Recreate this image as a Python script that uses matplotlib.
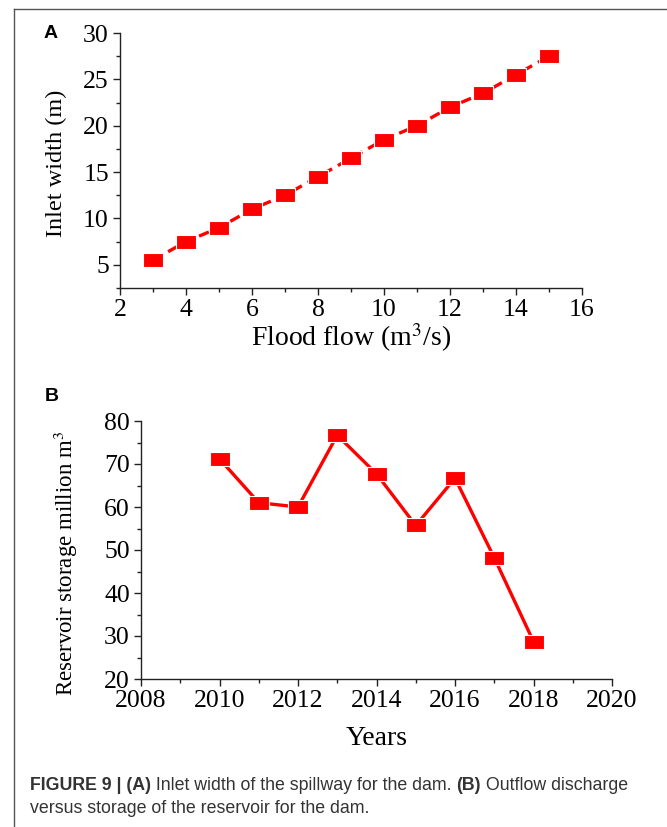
import matplotlib
matplotlib.use("Agg")
import matplotlib.pyplot as plt
from matplotlib.lines import Line2D
from matplotlib.ticker import MultipleLocator

# Panel A: inlet width vs flood flow
flood_flow = [3, 4, 5, 6, 7, 8, 9, 10, 11, 12, 13, 14, 15]
inlet_width = [5.5, 7.5, 9.0, 11.0, 12.5, 14.5, 16.5, 18.5, 20.0, 22.0, 23.5, 25.5, 27.5]

# Panel B: reservoir storage by year
years = [2010, 2011, 2012, 2013, 2014, 2015, 2016, 2017, 2018]
storage = [71.2, 61.0, 60.0, 76.7, 67.7, 55.7, 66.7, 48.2, 28.7]

plt.rcParams["font.family"] = ["Liberation Serif", "DejaVu Serif"]
plt.rcParams["mathtext.fontset"] = "stix"

W, H = 667, 827
RED = "#ff0000"
# squares look a bit wider than tall
rect = [(-1.0, -0.72), (1.0, -0.72), (1.0, 0.72), (-1.0, 0.72), (-1.0, -0.72)]

fig = plt.figure(figsize=(W / 100, H / 100), dpi=100)

# thin frame on top and left
fig.add_artist(Line2D([14 / W, 14 / W], [0, 1 - 9 / H], transform=fig.transFigure,
                      color="#555555", lw=1.0))
fig.add_artist(Line2D([14 / W, 1], [1 - 9 / H, 1 - 9 / H], transform=fig.transFigure,
                      color="#555555", lw=1.0))


def style_axes(ax):
    for side in ("top", "right"):
        ax.spines[side].set_visible(False)
    for side in ("left", "bottom"):
        ax.spines[side].set_linewidth(1.0)
        ax.spines[side].set_color("#222222")
    ax.tick_params(which="major", direction="out", length=5, width=1.0,
                   labelsize=18.5, color="#222222", pad=3)
    ax.tick_params(which="minor", direction="out", length=3, width=1.0, color="#222222")


# --- panel A ---
axA = fig.add_axes([120 / W, 1 - 288 / H, 462 / W, 255 / H])
axA.plot(flood_flow, inlet_width, color=RED, lw=2.4, ls=(0, (3.2, 2.0)),
         marker=rect, ms=14, mfc=RED, mec="white", mew=0.8)
axA.set_xlim(2, 16)
axA.set_ylim(2.5, 30)
axA.xaxis.set_major_locator(MultipleLocator(2))
axA.xaxis.set_minor_locator(MultipleLocator(1))
axA.yaxis.set_major_locator(MultipleLocator(5))
axA.yaxis.set_minor_locator(MultipleLocator(2.5))
style_axes(axA)
axA.set_xlabel("Flood flow (m$^3$/s)", fontsize=20, labelpad=0)
axA.set_ylabel("Inlet width (m)", fontsize=17.5)
axA.yaxis.set_label_coords(-0.115, 0.49)
fig.text(44 / W, 1 - 33 / H, "A", family="Liberation Sans", weight="bold",
         fontsize=14, va="center", ha="left")

# --- panel B ---
axB = fig.add_axes([141 / W, 1 - 679 / H, 471 / W, 258 / H])
axB.plot(years, storage, color=RED, lw=2.4, ls="-",
         marker=rect, ms=14, mfc=RED, mec="white", mew=0.8)
axB.set_xlim(2008, 2020)
axB.set_ylim(20, 80)
axB.xaxis.set_major_locator(MultipleLocator(2))
axB.xaxis.set_minor_locator(MultipleLocator(1))
axB.yaxis.set_major_locator(MultipleLocator(10))
axB.yaxis.set_minor_locator(MultipleLocator(5))
style_axes(axB)
axB.set_xlabel("Years", fontsize=20, labelpad=10)
axB.set_ylabel("Reservoir storage million m$^3$", fontsize=16.5)
axB.yaxis.set_label_coords(-0.13, 0.45)
fig.text(45 / W, 1 - 397 / H, "B", family="Liberation Sans", weight="bold",
         fontsize=14, va="center", ha="left")

# --- caption: bold and regular runs placed one after another ---
cap_font = dict(family="Liberation Sans", fontsize=12.8, color="#333333")
caption_line1 = [("FIGURE 9 | (A)", "bold"),
                 (" Inlet width of the spillway for the dam. ", "normal"),
                 ("(B)", "bold"),
                 (" Outflow discharge", "normal")]
renderer = fig.canvas.get_renderer()
x = 30
for txt, wt in caption_line1:
    t = fig.text(x / W, 1 - 790 / H, txt, weight=wt, va="baseline", ha="left", **cap_font)
    x = t.get_window_extent(renderer).x1
fig.text(30 / W, 1 - 813 / H, "versus storage of the reservoir for the dam.",
         va="baseline", ha="left", **cap_font)

fig.savefig("out.png", dpi=100)
